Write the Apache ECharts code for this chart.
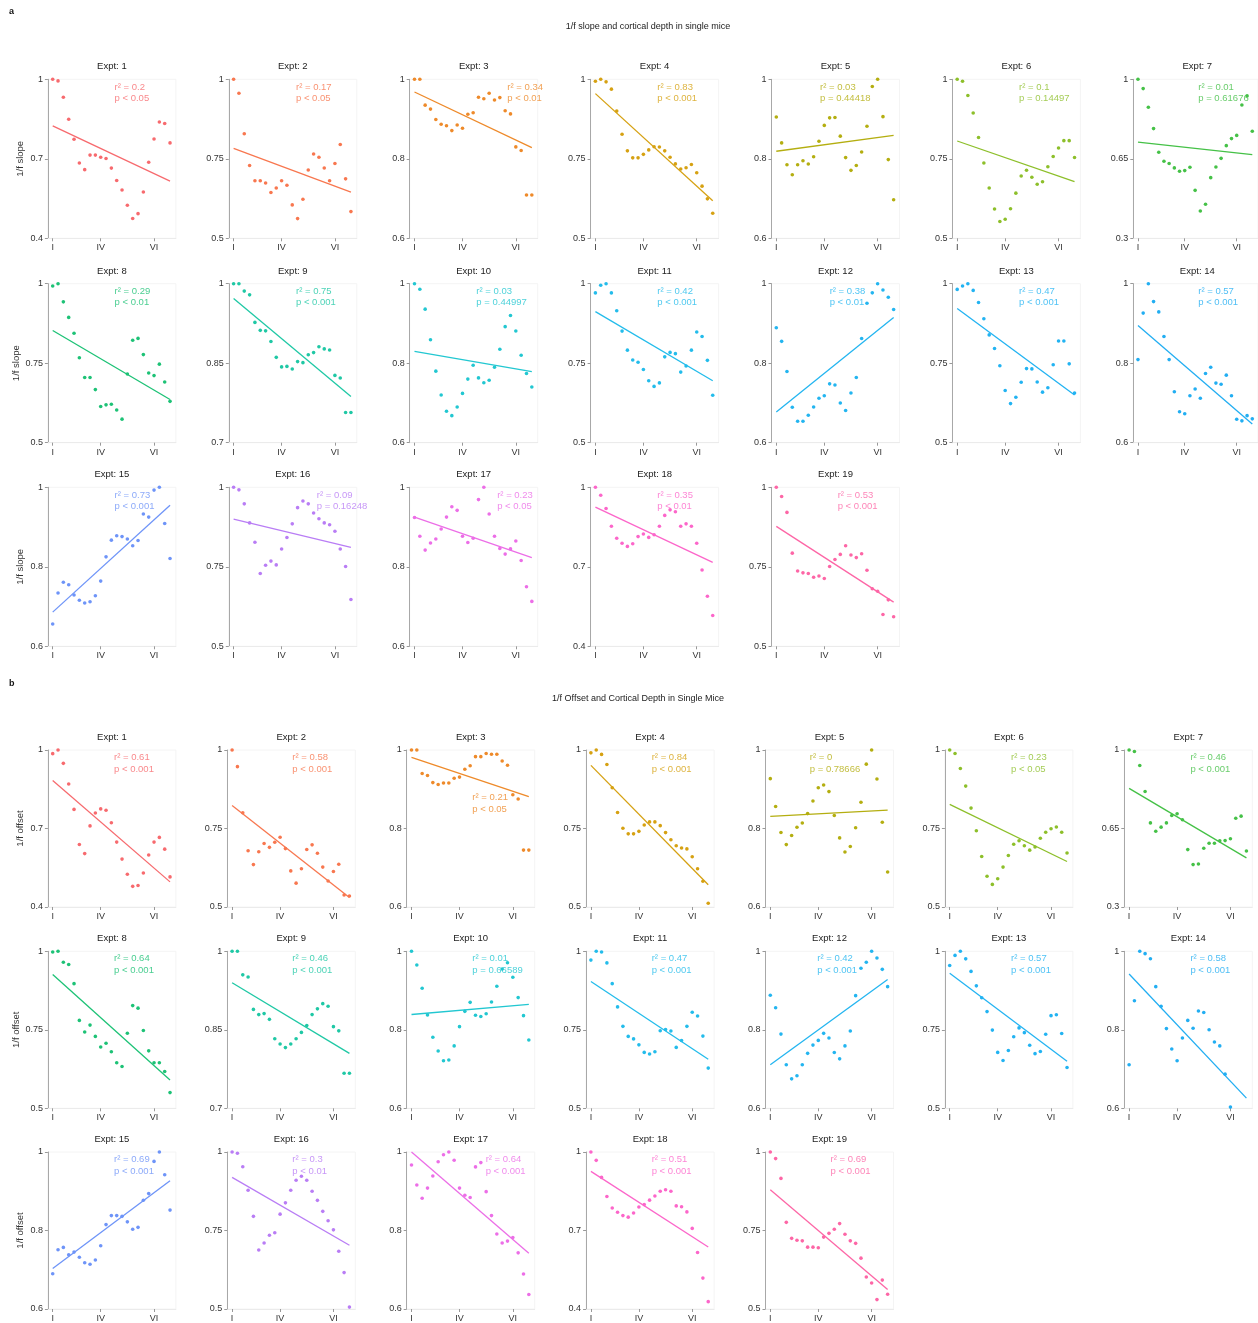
<!DOCTYPE html>
<html><head><meta charset="utf-8">
<script src="https://cdn.jsdelivr.net/npm/echarts@6/dist/echarts.min.js"></script>
<style>html,body{margin:0;padding:0;background:#fff}#chart{width:1258px;height:1323px}</style>
</head><body><div id="chart"></div>
<script>
// ---------- DATA ----------
const experiments = ['Expt: 1','Expt: 2','Expt: 3','Expt: 4','Expt: 5','Expt: 6','Expt: 7','Expt: 8','Expt: 9','Expt: 10','Expt: 11','Expt: 12','Expt: 13','Expt: 14','Expt: 15','Expt: 16','Expt: 17','Expt: 18','Expt: 19'];
const xTickValues = [0, 9, 19];
const xTickLabels = ['I', 'IV', 'VI'];
const yMins = [0.4,0.5,0.6,0.5,0.6,0.5,0.3,0.5,0.7,0.6,0.5,0.6,0.5,0.6,0.6,0.5,0.6,0.4,0.5];

const slopeValues = [
 [1.0,0.994,0.932,0.849,0.774,0.684,0.659,0.714,0.714,0.706,0.701,0.665,0.618,0.582,0.525,0.475,0.493,0.575,0.687,0.775,0.839,0.833,0.760],
 [1.0,0.956,0.829,0.729,0.681,0.681,0.674,0.644,0.658,0.681,0.667,0.605,0.562,0.623,0.715,0.765,0.755,0.721,0.681,0.735,0.795,0.687,0.584],
 [1.0,1.0,0.935,0.925,0.899,0.887,0.883,0.871,0.885,0.877,0.912,0.916,0.955,0.951,0.965,0.948,0.954,0.921,0.913,0.830,0.821,0.709,0.709],
 [0.994,1.0,0.992,0.969,0.900,0.827,0.775,0.753,0.753,0.764,0.778,0.788,0.787,0.775,0.755,0.734,0.718,0.722,0.732,0.706,0.664,0.624,0.579],
 [0.905,0.840,0.785,0.760,0.785,0.795,0.787,0.805,0.844,0.884,0.903,0.904,0.857,0.803,0.771,0.783,0.817,0.882,0.982,1.0,0.906,0.798,0.697],
 [1.0,0.994,0.949,0.894,0.817,0.737,0.658,0.592,0.553,0.560,0.593,0.642,0.696,0.714,0.692,0.670,0.678,0.725,0.757,0.784,0.807,0.807,0.754],
 [1.0,0.959,0.877,0.783,0.679,0.639,0.629,0.610,0.595,0.598,0.613,0.511,0.420,0.450,0.567,0.614,0.652,0.708,0.739,0.753,0.887,0.927,0.771],
 [0.993,1.0,0.943,0.894,0.844,0.767,0.705,0.705,0.667,0.614,0.619,0.621,0.603,0.574,0.716,0.822,0.828,0.777,0.719,0.711,0.747,0.691,0.630],
 [1.0,1.0,0.986,0.979,0.927,0.912,0.911,0.891,0.861,0.843,0.844,0.839,0.853,0.851,0.866,0.870,0.881,0.877,0.875,0.827,0.822,0.757,0.757],
 [1.0,0.986,0.936,0.859,0.780,0.720,0.679,0.668,0.690,0.724,0.760,0.795,0.763,0.751,0.757,0.790,0.835,0.892,0.920,0.881,0.820,0.774,0.740],
 [0.971,0.995,1.0,0.971,0.915,0.851,0.791,0.760,0.753,0.730,0.695,0.677,0.688,0.770,0.784,0.780,0.722,0.741,0.791,0.848,0.834,0.759,0.649],
 [0.889,0.855,0.779,0.689,0.654,0.654,0.669,0.690,0.712,0.718,0.748,0.745,0.700,0.681,0.725,0.764,0.862,0.951,0.977,1.0,0.984,0.966,0.935],
 [0.982,0.993,1.0,0.979,0.941,0.890,0.839,0.796,0.742,0.664,0.623,0.643,0.690,0.733,0.732,0.691,0.659,0.673,0.745,0.820,0.820,0.748,0.656],
 [0.809,0.926,1.0,0.955,0.929,0.867,0.809,0.728,0.678,0.673,0.718,0.735,0.712,0.774,0.790,0.750,0.747,0.770,0.718,0.659,0.655,0.668,0.660],
 [0.656,0.734,0.761,0.755,0.729,0.716,0.709,0.712,0.727,0.764,0.825,0.867,0.878,0.876,0.870,0.853,0.866,0.933,0.925,0.993,1.0,0.909,0.821],
 [1.0,0.992,0.948,0.888,0.827,0.729,0.755,0.768,0.756,0.806,0.842,0.885,0.936,0.957,0.948,0.919,0.901,0.888,0.882,0.862,0.806,0.751,0.647],
 [0.924,0.877,0.842,0.860,0.870,0.895,0.925,0.951,0.942,0.877,0.861,0.872,0.969,1.0,0.933,0.877,0.846,0.832,0.845,0.865,0.816,0.750,0.713],
 [1.0,0.970,0.920,0.853,0.808,0.789,0.777,0.787,0.814,0.824,0.811,0.821,0.853,0.894,0.915,0.908,0.853,0.862,0.853,0.789,0.688,0.589,0.516],
 [1.0,0.971,0.921,0.793,0.737,0.731,0.729,0.717,0.721,0.713,0.751,0.773,0.789,0.816,0.787,0.779,0.791,0.739,0.681,0.673,0.600,0.646,0.593]
];
const slopeFitStart = [0.824,0.783,0.968,0.955,0.819,0.806,0.723,0.853,0.972,0.830,0.912,0.677,0.922,0.895,0.686,0.900,0.925,0.925,0.877];
const slopeFitEnd   = [0.616,0.645,0.828,0.618,0.859,0.678,0.668,0.636,0.787,0.779,0.695,0.915,0.650,0.647,0.955,0.811,0.823,0.717,0.639];
const slopeR2 = ['0.2','0.17','0.34','0.83','0.03','0.1','0.01','0.29','0.75','0.03','0.42','0.38','0.47','0.57','0.73','0.09','0.23','0.35','0.53'];
const slopeP  = ['p < 0.05','p < 0.05','p < 0.01','p < 0.001','p = 0.44418','p = 0.14497','p = 0.61676','p < 0.01','p < 0.001','p = 0.44997','p < 0.001','p < 0.01','p < 0.001','p < 0.001','p < 0.001','p = 0.16248','p < 0.05','p < 0.01','p < 0.001'];

const offsetValues = [
 [0.986,1.0,0.949,0.870,0.773,0.639,0.604,0.710,0.759,0.775,0.770,0.722,0.648,0.583,0.525,0.479,0.482,0.530,0.599,0.648,0.666,0.621,0.515],
 [1.0,0.947,0.800,0.679,0.635,0.676,0.702,0.690,0.706,0.722,0.686,0.615,0.576,0.622,0.683,0.698,0.671,0.627,0.583,0.613,0.636,0.538,0.535],
 [1.0,1.0,0.940,0.935,0.917,0.912,0.916,0.916,0.928,0.931,0.951,0.960,0.983,0.983,0.991,0.989,0.989,0.972,0.961,0.886,0.875,0.745,0.745],
 [0.991,1.0,0.986,0.954,0.880,0.801,0.751,0.733,0.733,0.741,0.761,0.771,0.771,0.759,0.737,0.714,0.695,0.688,0.685,0.660,0.622,0.582,0.512],
 [0.927,0.856,0.790,0.759,0.782,0.803,0.814,0.838,0.870,0.904,0.911,0.894,0.833,0.776,0.740,0.754,0.802,0.867,0.964,1.0,0.926,0.816,0.689],
 [1.0,0.989,0.941,0.885,0.815,0.743,0.661,0.598,0.572,0.590,0.627,0.664,0.700,0.711,0.695,0.681,0.691,0.719,0.738,0.749,0.755,0.738,0.672],
 [1.0,0.993,0.931,0.815,0.675,0.638,0.656,0.675,0.708,0.716,0.689,0.556,0.489,0.492,0.562,0.584,0.584,0.595,0.596,0.604,0.696,0.705,0.550],
 [0.998,1.0,0.965,0.958,0.897,0.780,0.743,0.765,0.729,0.695,0.707,0.680,0.645,0.633,0.739,0.827,0.819,0.748,0.683,0.645,0.645,0.617,0.550],
 [1.0,1.0,0.955,0.951,0.889,0.879,0.881,0.870,0.833,0.823,0.816,0.823,0.833,0.845,0.858,0.879,0.890,0.900,0.895,0.856,0.848,0.767,0.767],
 [1.0,0.965,0.906,0.838,0.781,0.746,0.721,0.723,0.759,0.808,0.847,0.870,0.837,0.834,0.841,0.871,0.911,0.955,0.971,0.934,0.882,0.836,0.774],
 [0.972,1.0,0.998,0.963,0.897,0.823,0.761,0.729,0.721,0.702,0.678,0.673,0.680,0.747,0.751,0.746,0.694,0.716,0.761,0.806,0.794,0.730,0.628],
 [0.888,0.856,0.789,0.711,0.675,0.683,0.711,0.740,0.761,0.773,0.791,0.779,0.742,0.726,0.759,0.797,0.887,0.957,0.972,1.0,0.983,0.954,0.910],
 [0.955,0.987,1.0,0.976,0.936,0.890,0.852,0.808,0.749,0.678,0.652,0.684,0.728,0.756,0.741,0.701,0.674,0.681,0.736,0.795,0.798,0.738,0.630],
 [0.711,0.874,1.0,0.994,0.981,0.910,0.860,0.803,0.751,0.721,0.779,0.824,0.804,0.848,0.844,0.800,0.769,0.759,0.687,0.603,null,null,null],
 [0.690,0.751,0.757,0.738,0.745,0.732,0.718,0.714,0.725,0.761,0.815,0.838,0.838,0.836,0.822,0.803,0.808,0.877,0.894,0.976,1.0,0.942,0.852],
 [1.0,0.996,0.953,0.878,0.795,0.688,0.710,0.735,0.743,0.802,0.838,0.878,0.910,0.923,0.910,0.875,0.846,0.811,0.781,0.752,0.684,0.616,0.506],
 [0.967,0.916,0.882,0.908,0.939,0.975,0.993,1.0,0.979,0.908,0.890,0.884,0.962,0.973,0.899,0.838,0.791,0.768,0.773,0.782,0.743,0.689,0.637],
 [1.0,0.968,0.903,0.830,0.786,0.770,0.757,0.751,0.767,0.790,0.799,0.816,0.832,0.850,0.856,0.850,0.794,0.791,0.771,0.708,0.616,0.518,0.428],
 [1.0,0.979,0.916,0.776,0.725,0.719,0.717,0.697,0.697,0.695,0.729,0.741,0.754,0.772,0.738,0.717,0.709,0.662,0.602,0.583,0.530,0.592,0.547]
];
const offsetFitStart = [0.883,0.823,0.981,0.951,0.831,0.827,0.829,0.926,0.940,0.839,0.904,0.711,0.930,0.942,0.703,0.919,1.0,0.926,0.880];
const offsetFitEnd   = [0.496,0.530,0.881,0.571,0.847,0.645,0.519,0.590,0.805,0.865,0.656,0.928,0.650,0.626,0.927,0.703,0.742,0.637,0.562];
const offsetR2 = ['0.61','0.58','0.21','0.84','0','0.23','0.46','0.64','0.46','0.01','0.47','0.42','0.57','0.58','0.69','0.3','0.64','0.51','0.69'];
const offsetP  = ['p < 0.001','p < 0.001','p < 0.05','p < 0.001','p = 0.78666','p < 0.05','p < 0.001','p < 0.001','p < 0.001','p = 0.66589','p < 0.001','p < 0.001','p < 0.001','p < 0.001','p < 0.001','p < 0.01','p < 0.001','p < 0.001','p < 0.001'];

// ---------- STYLE / LAYOUT ----------
const colors = ['#F76A6E','#F8774F','#EE8A2A','#D6A112','#B4AE10','#8DBF2A','#45C147','#1DC276','#1FC8A5','#22C7D1','#23BCEB','#23B5F0','#22B3F2','#22AEF2','#6E94F8','#B97DF5','#EC6EE7','#FC66CA','#FD66A6'];
// stat label anchor (x in index units, fraction from top)
const slopeLabelX  = [11.6,11.7,17.4,11.6,8.2,11.6,11.6,11.6,11.7,11.6,11.6,10.0,11.6,11.6,11.6,15.6,15.5,11.6,11.5];
const offsetLabelX = [11.5,11.3,11.4,11.4,7.4,11.5,11.5,11.5,11.3,11.4,11.4,8.8,11.5,11.5,11.5,11.3,13.9,11.4,11.3];
const slopeLabelF  = Array(19).fill(0.084);
const offsetLabelF = [0.084,0.084,0.34,0.084,0.084,0.084,0.084,0.084,0.084,0.084,0.084,0.084,0.084,0.084,0.084,0.084,0.084,0.084,0.084];

const FONT = 'Liberation Sans, Arial, Helvetica, sans-serif';
const X_MIN = -0.9, X_MAX = 23.1, GW = 128;
const sections = [
  {values: slopeValues, fs: slopeFitStart, fe: slopeFitEnd, r2: slopeR2, p: slopeP, lx: slopeLabelX, lf: slopeLabelF,
   name: '1/f slope', colX0: 47.9, colDX: 180.9, rowTops: [79.3, 283.7, 487.3], gh: 159,
   letter: 'a', letterY: 12, title: '1/f slope and cortical depth in single mice', titleX: 648, titleY: 27},
  {values: offsetValues, fs: offsetFitStart, fe: offsetFitEnd, r2: offsetR2, p: offsetP, lx: offsetLabelX, lf: offsetLabelF,
   name: '1/f offset', colX0: 47.9, colDX: 179.4, rowTops: [750, 951.3, 1152], gh: 157,
   letter: 'b', letterY: 684, title: '1/f Offset and Cortical Depth in Single Mice', titleX: 638, titleY: 699}
];

const grids = [], xAxes = [], yAxes = [], series = [], graphics = [];
const fmtNum = v => String(parseFloat((+v).toFixed(3)));

sections.forEach(sec => {
  graphics.push({type:'text', x: 9, y: sec.letterY, style:{text: sec.letter, fill:'#111', font:'bold 9px ' + FONT, textAlign:'left', textVerticalAlign:'middle', align:'left', verticalAlign:'middle'}});
  graphics.push({type:'text', x: sec.titleX, y: sec.titleY, style:{text: sec.title, fill:'#222', font:'9px ' + FONT, textAlign:'center', textVerticalAlign:'middle', align:'center', verticalAlign:'middle'}});
  sec.values.forEach((vals, k) => {
    const row = Math.floor(k / 7), col = k % 7;
    const left = sec.colX0 + sec.colDX * col, top = sec.rowTops[row];
    const gi = grids.length;
    const yMin = yMins[k];
    const yMid = +((yMin + 1) / 2).toFixed(3);
    const color = colors[k];
    grids.push({left: left, top: top, width: GW, height: sec.gh, show: true, borderColor: '#f4f4f4', borderWidth: 1, containLabel: false});
    xAxes.push({
      type: 'value', gridIndex: gi, min: X_MIN, max: X_MAX,
      axisLine: {show: true, lineStyle: {color: '#ebebeb', width: 1}},
      axisTick: {show: true, length: 3, lineStyle: {color: '#999'}, customValues: xTickValues},
      axisLabel: {show: true, customValues: xTickValues, fontSize: 9, color: '#333', fontFamily: FONT, margin: 5,
                  formatter: v => { const i = xTickValues.indexOf(Math.round(v)); return i >= 0 ? xTickLabels[i] : ''; }},
      splitLine: {show: false}
    });
    const yax = {
      type: 'value', gridIndex: gi, min: yMin, max: 1,
      axisLine: {show: true, onZero: false, lineStyle: {color: '#a8a8a8', width: 1}},
      axisTick: {show: true, length: 3, lineStyle: {color: '#999'}, customValues: [yMin, yMid, 1]},
      axisLabel: {show: true, customValues: [yMin, yMid, 1], fontSize: 9, color: '#333', fontFamily: FONT, margin: 5, formatter: fmtNum},
      splitLine: {show: false}
    };
    if (col === 0) {
      yax.name = sec.name; yax.nameLocation = 'middle';
      yax.nameGap = (String(yMid).length > 3) ? 27 : 23;
      yax.nameTextStyle = {fontSize: 9.5, color: '#333', fontFamily: FONT};
    }
    yAxes.push(yax);
    graphics.push({type:'text', x: left + GW / 2, y: top - 12.6, style:{text: experiments[k], fill:'#222', font:'9.5px ' + FONT, textAlign:'center', textVerticalAlign:'middle', align:'center', verticalAlign:'middle'}});
    const pts = [];
    vals.forEach((v, i) => { if (v !== null) pts.push([i, v]); });
    series.push({type: 'scatter', xAxisIndex: gi, yAxisIndex: gi, data: pts, symbolSize: 3.6, clip: false,
                 itemStyle: {color: color, opacity: 1}, silent: true, animation: false});
    series.push({type: 'line', xAxisIndex: gi, yAxisIndex: gi, data: [[0, sec.fs[k]], [vals.length - 1, sec.fe[k]]],
                 symbol: 'none', clip: false, lineStyle: {color: color, width: 1.3}, silent: true, animation: false});
    const ly = 1 - sec.lf[k] * (1 - yMin);
    series.push({type: 'scatter', xAxisIndex: gi, yAxisIndex: gi, data: [[sec.lx[k], ly]], symbolSize: 0, clip: false,
                 itemStyle: {color: 'rgba(0,0,0,0)'}, silent: true, animation: false,
                 label: {show: true, position: 'right', distance: 0, align: 'left', verticalAlign: 'middle',
                         fontSize: 9.5, lineHeight: 11.5, color: color, fontFamily: FONT,
                         formatter: () => 'r² = ' + sec.r2[k] + '\n' + sec.p[k]}});
  });
});

const chart = echarts.init(document.getElementById('chart'), null, {renderer: 'canvas'});
chart.setOption({
  backgroundColor: '#ffffff',
  animation: false,
  grid: grids, xAxis: xAxes, yAxis: yAxes, series: series,
  graphic: graphics
});
</script></body></html>
